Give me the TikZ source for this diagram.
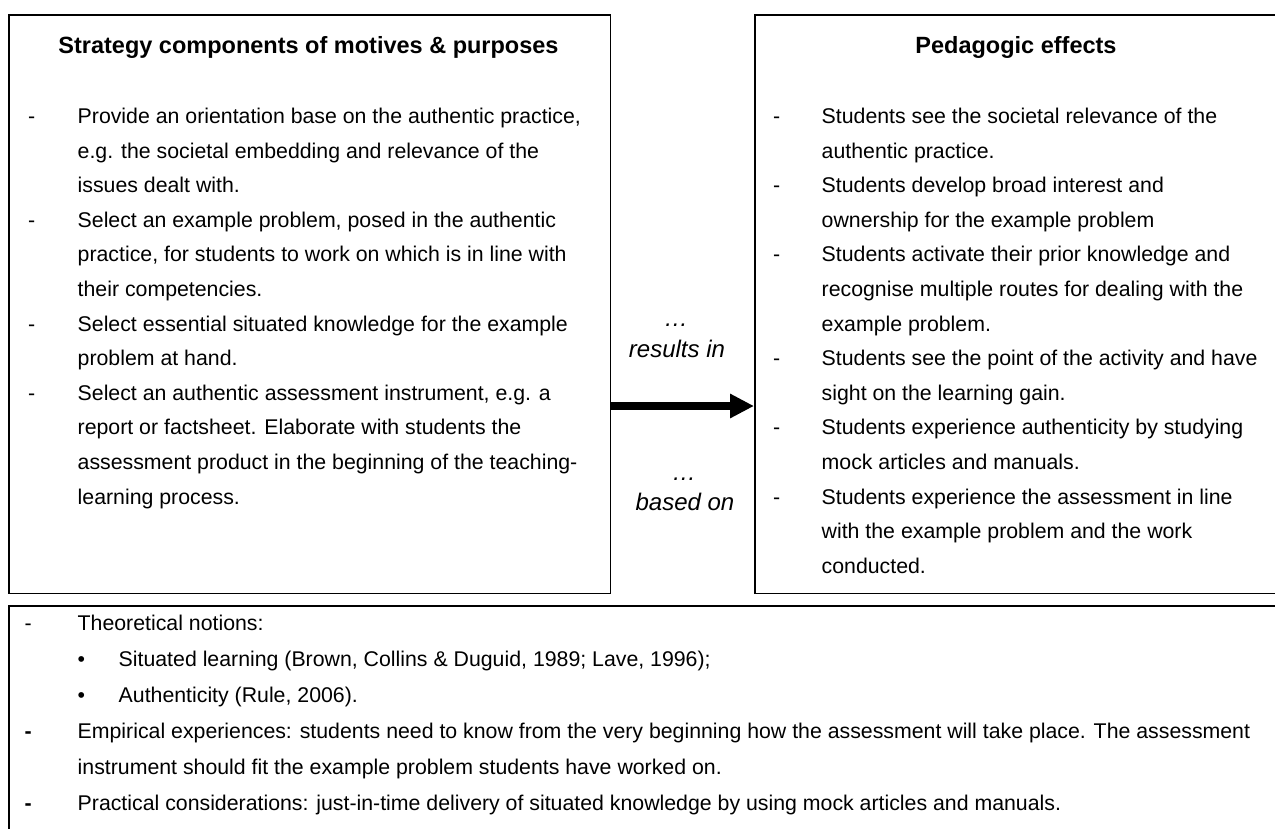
\documentclass[tikz,border=0pt]{standalone}
\usepackage{fontspec}
\setmainfont{Liberation Sans}
\usetikzlibrary{arrows.meta}
\tikzset{
  box/.style={draw, line width=1.8pt, inner sep=0pt, anchor=north west},
  txt/.style={inner sep=0pt, anchor=base west, font=\fontsize{21.3}{25}\selectfont},
  bdash/.style={inner sep=0pt, anchor=base west, font=\bfseries\fontsize{21.3}{25}\selectfont},
  ttl/.style={inner sep=0pt, anchor=base, font=\bfseries\fontsize{23.5}{28}\selectfont},
  mid/.style={inner sep=0pt, anchor=base, font=\itshape\fontsize{24}{28}\selectfont},
  arr/.style={line width=8.5pt, -{Triangle[length=24pt,width=23pt]}},
}
\begin{document}
\begin{tikzpicture}[x=1pt,y=-1pt]
\useasboundingbox (0,0) rectangle (1275,828);
% boxes
\node[box, minimum width=601.5pt, minimum height=578.5pt] (L) at (8,14) {};
\node[box, minimum width=524pt, minimum height=578.5pt] (R) at (754,14) {};
\node[box, line width=2.4pt, minimum width=1270pt, minimum height=230pt] (B) at (8,604.5) {};
% titles
\node[ttl] (Lt) at (308.5,53) {Strategy components of motives \& purposes};
\node[ttl] (Rt) at (1016,53) {Pedagogic effects};
% left list
\foreach \t [count=\i] in {
  {Provide an orientation base on the authentic practice,},
  {e.g. the societal embedding and relevance of the},
  {issues dealt with.},
  {Select an example problem, posed in the authentic},
  {practice, for students to work on which is in line with},
  {their competencies.},
  {Select essential situated knowledge for the example},
  {problem at hand.},
  {Select an authentic assessment instrument, e.g. a},
  {report or factsheet. Elaborate with students the},
  {assessment product in the beginning of the teaching-},
  {learning process.}}
  \node[txt] (Ll\i) at (77.5,{123.5+34.6*(\i-1)}) {\t};
\foreach \i in {1,4,7,9}
  \node[txt] (Ld\i) at (28,{123.5+34.6*(\i-1)}) {-};
% right list
\foreach \t [count=\i] in {
  {Students see the societal relevance of the},
  {authentic practice.},
  {Students develop broad interest and},
  {ownership for the example problem},
  {Students activate their prior knowledge and},
  {recognise multiple routes for dealing with the},
  {example problem.},
  {Students see the point of the activity and have},
  {sight on the learning gain.},
  {Students experience authenticity by studying},
  {mock articles and manuals.},
  {Students experience the assessment in line},
  {with the example problem and the work},
  {conducted.}}
  \node[txt] (Rl\i) at (821.5,{123.5+34.6*(\i-1)}) {\t};
\foreach \i in {1,3,5,8,10,12}
  \node[txt] (Rd\i) at (773,{123.5+34.6*(\i-1)}) {-};
% middle labels and arrow
\node[mid] (m1) at (676,326) {…};
\node[mid] (m2) at (677,357) {results in};
\node[mid] (m3) at (684,480) {…};
\node[mid] (m4) at (685,510) {based on};
\coordinate (ay) at (0,406);
\draw[arr] (L.east |- ay) -- (R.west |- ay);
% bottom list
\node[txt] (Bd1) at (24.5,630.5) {-};
\node[txt] (Bl1) at (77.5,630.5) {Theoretical notions:};
\node[txt] (Bb2) at (77.5,666.5) {•};
\node[txt] (Bl2) at (118.5,666.5) {Situated learning (Brown, Collins \& Duguid, 1989; Lave, 1996);};
\node[txt] (Bb3) at (77.5,702.5) {•};
\node[txt] (Bl3) at (118.5,702.5) {Authenticity (Rule, 2006).};
\node[bdash] (Bd4) at (24.5,738.5) {-};
\node[txt] (Bl4) at (77.5,738.5) {Empirical experiences: students need to know from the very beginning how the assessment will take place. The assessment};
\node[txt] (Bl5) at (77.5,774.5) {instrument should fit the example problem students have worked on.};
\node[bdash] (Bd6) at (24.5,810.5) {-};
\node[txt] (Bl6) at (77.5,810.5) {Practical considerations: just-in-time delivery of situated knowledge by using mock articles and manuals.};
\end{tikzpicture}
\end{document}
